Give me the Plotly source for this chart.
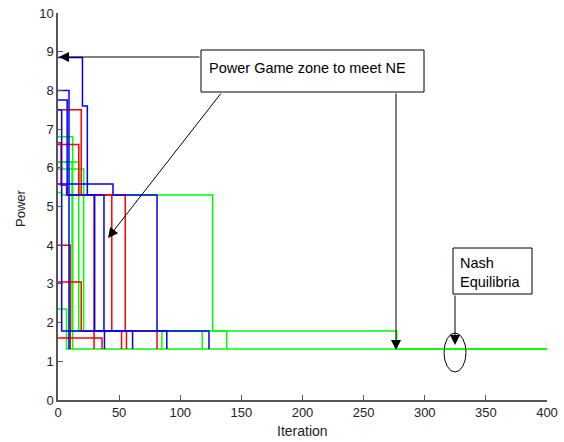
import plotly.graph_objects as go

# ---- data: step trajectories (iteration where each level starts, power level) ----
blue_1_iter = [0, 20, 24, 37.6, 61]
blue_1_power = [8.85, 7.6, 5.3, 1.78, 1.32]
blue_2_iter = [0, 9]
blue_2_power = [8.0, 1.32]
blue_3_iter = [0, 7.5, 30, 38]
blue_3_power = [7.75, 5.3, 1.78, 1.32]
blue_4_iter = [0, 3, 123.5]
blue_4_power = [7.5, 1.78, 1.32]
blue_5_iter = [0, 45, 81, 89]
blue_5_power = [5.58, 5.3, 1.78, 1.32]

red_1_iter = [0, 19, 55, 81]
red_1_power = [7.5, 5.3, 1.78, 1.32]
red_2_iter = [0, 2.5, 7, 44, 52]
red_2_power = [6.65, 5.55, 5.3, 1.78, 1.32]
red_3_iter = [0, 17, 29.5]
red_3_power = [6.6, 5.3, 1.32]
red_4_iter = [0, 10]
red_4_power = [4.0, 1.32]
red_5_iter = [0, 19, 56]
red_5_power = [3.05, 1.78, 1.32]
red_6_iter = [0, 36]
red_6_power = [1.6, 1.32]

green_1_iter = [0, 12]
green_1_power = [6.8, 1.32]
green_2_iter = [0, 11.5, 118]
green_2_power = [6.15, 1.78, 1.32]
green_3_iter = [0, 21, 138]
green_3_power = [5.97, 1.78, 1.32]
green_4_iter = [0, 17, 85]
green_4_power = [6.15, 1.78, 1.32]
green_5_iter = [0, 3, 126.5, 277, 400]
green_5_power = [5.36, 5.3, 1.78, 1.32, 1.32]
green_6_iter = [0, 7, 400]
green_6_power = [2.35, 1.32, 1.32]

x_ticks = [0, 50, 100, 150, 200, 250, 300, 350, 400]
y_ticks = [0, 1, 2, 3, 4, 5, 6, 7, 8, 9, 10]

BLUE, RED, GREEN = "#0000ff", "#ff0000", "#00ff00"
series = [
    (green_1_iter, green_1_power, GREEN), (green_2_iter, green_2_power, GREEN),
    (green_3_iter, green_3_power, GREEN), (green_4_iter, green_4_power, GREEN),
    (green_5_iter, green_5_power, GREEN), (green_6_iter, green_6_power, GREEN),
    (red_1_iter, red_1_power, RED), (red_2_iter, red_2_power, RED),
    (red_3_iter, red_3_power, RED), (red_4_iter, red_4_power, RED),
    (red_5_iter, red_5_power, RED), (red_6_iter, red_6_power, RED),
    (blue_1_iter, blue_1_power, BLUE), (blue_2_iter, blue_2_power, BLUE),
    (blue_3_iter, blue_3_power, BLUE), (blue_4_iter, blue_4_power, BLUE),
    (blue_5_iter, blue_5_power, BLUE),
]

fig = go.Figure()
for xs, ys, c in series:
    fig.add_trace(go.Scatter(x=xs, y=ys, mode="lines", line=dict(color=c, width=1.5, shape="hv"),
                             showlegend=False, hoverinfo="skip", cliponaxis=False))

W, H = 564, 442
L, R, T, B = 58, 547, 13, 400          # plot area in window pixels
def dx(px):
    return (px - L) / (R - L) * 400
def dy(py):
    return (B - py) / (B - T) * 10

FONT = "Liberation Sans, Arial, sans-serif"
shapes = [
    dict(type="rect", xref="x", yref="y", x0=dx(201), x1=dx(424), y0=dy(92), y1=dy(50),
         line=dict(color="black", width=1), fillcolor="white", layer="above"),
    dict(type="rect", xref="x", yref="y", x0=dx(453), x1=dx(532), y0=dy(294), y1=dy(248),
         line=dict(color="black", width=1), fillcolor="white", layer="above"),
    dict(type="circle", xref="x", yref="y", x0=dx(444), x1=dx(466), y0=dy(372), y1=dy(333),
         line=dict(color="black", width=1), layer="above"),
]

def arrow(tx, ty, hx, hy):
    return dict(x=dx(hx), y=dy(hy), ax=dx(tx), ay=dy(ty), xref="x", yref="y", axref="x", ayref="y",
                showarrow=True, arrowhead=2, arrowsize=2, arrowwidth=1, arrowcolor="black", text="")

annotations = [
    arrow(201, 57, 59, 57),
    arrow(222, 92, 108, 238),
    arrow(396, 92, 396, 350),
    arrow(455, 294, 455, 345),
    dict(x=dx(207), y=dy(68), xref="x", yref="y", text="Power Game zone to meet NE", showarrow=False,
         xanchor="left", yanchor="middle", font=dict(family=FONT, size=14.5, color="black")),
    dict(x=dx(458), y=dy(272), xref="x", yref="y", text="Nash<br>Equilibria", showarrow=False,
         xanchor="left", yanchor="middle", align="left", font=dict(family=FONT, size=14.5, color="black")),
    dict(x=(20 - L) / (R - L), y=(B - 208) / (B - T), xref="paper", yref="paper", text="Power",
         showarrow=False, textangle=-90, xanchor="center", yanchor="middle",
         font=dict(family=FONT, size=13, color="#222")),
    dict(x=0.5, y=(B - 431) / (B - T), xref="paper", yref="paper", text="Iteration",
         showarrow=False, xanchor="center", yanchor="middle",
         font=dict(family=FONT, size=14, color="#222")),
]

fig.update_layout(
    width=W, height=H,
    margin=dict(l=L, r=W - R, t=T, b=H - B, autoexpand=False),
    paper_bgcolor="white", plot_bgcolor="white",
    shapes=shapes, annotations=annotations,
    font=dict(family=FONT, size=13, color="#222"),
    xaxis=dict(range=[0, 400], tickvals=x_ticks, ticks="inside", ticklen=5, tickcolor="#555",
               showline=True, linecolor="#555", linewidth=1.5, showgrid=False, zeroline=False,
               mirror=False, fixedrange=True, tickfont=dict(size=13), automargin=False),
    yaxis=dict(range=[0, 10], tickvals=y_ticks, ticks="inside", ticklen=5, tickcolor="#555",
               showline=True, linecolor="#555", linewidth=1.5, showgrid=False, zeroline=False,
               mirror=False, fixedrange=True, tickfont=dict(size=13), automargin=False),
)

fig.write_html("out.html", config={"displayModeBar": False},
               post_script="document.body.style.margin='0px';document.body.style.padding='0px';")
